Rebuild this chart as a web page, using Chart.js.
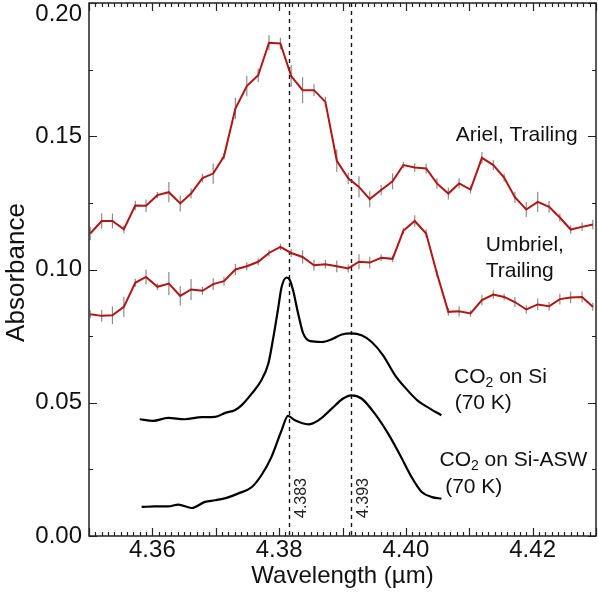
<!DOCTYPE html>
<html>
<head>
<meta charset="utf-8">
<script src="https://cdn.jsdelivr.net/npm/chart.js@4.4.1/dist/chart.umd.min.js"></script>
<style>
html,body{margin:0;padding:0;background:#fff;}
#wrap{width:598px;height:595px;position:relative;}
</style>
</head>
<body>
<div id="wrap"><canvas id="c"></canvas></div>
<script>
// Wavelength grid (µm) of the Ariel / Umbriel spectra
const wlObs = [4.3502,4.3520,4.3537,4.3555,4.3573,4.3590,4.3608,4.3626,4.3644,4.3661,
  4.3679,4.3696,4.3713,4.3731,4.3749,4.3767,4.3784,4.3802,4.3819,4.3837,
  4.3855,4.3873,4.3891,4.3909,4.3926,4.3943,4.3961,4.3979,4.3996,4.4014,
  4.4032,4.4049,4.4067,4.4084,4.4102,4.4120,4.4138,4.4155,4.4172,4.4190,
  4.4208,4.4226,4.4243,4.4260,4.4278,4.4295];
const ariel = [0.1135,0.1182,0.1182,0.1151,0.1240,0.1239,0.1279,0.1290,0.1248,0.1285,
  0.1343,0.1360,0.1425,0.1604,0.1688,0.1729,0.1851,0.1848,0.1726,0.1673,
  0.1673,0.1629,0.1408,0.1342,0.1310,0.1264,0.1298,0.1331,0.1392,0.1383,
  0.1379,0.1323,0.1285,0.1323,0.1300,0.1419,0.1392,0.1345,0.1271,0.1225,
  0.1254,0.1235,0.1195,0.1150,0.1160,0.1169];
const arielErr = [0.0025,0.0029,0.0028,0.0015,0.0018,0.0024,0.0012,0.0038,0.0030,0.0019,
  0.0016,0.0038,0.0012,0.0040,0.0038,0.0025,0.0028,0.0022,0.0040,0.0049,
  0.0022,0.0019,0.0042,0.0022,0.0040,0.0030,0.0019,0.0030,0.0012,0.0016,
  0.0019,0.0019,0.0022,0.0019,0.0015,0.0022,0.0019,0.0015,0.0021,0.0028,
  0.0038,0.0022,0.0015,0.0015,0.0016,0.0018];
const umbriel = [0.0832,0.0826,0.0828,0.0860,0.0950,0.0972,0.0935,0.0947,0.0901,0.0925,
  0.0920,0.0945,0.0956,0.1000,0.1012,0.1029,0.1062,0.1085,0.1062,0.1047,
  0.1016,0.1020,0.1012,0.1004,0.1029,0.1026,0.1044,0.1040,0.1145,0.1182,
  0.1135,0.0985,0.0841,0.0843,0.0835,0.0885,0.0906,0.0897,0.0878,0.0850,
  0.0869,0.0862,0.0889,0.0895,0.0897,0.0860];
const umbrielErr = [0.0015,0.0022,0.0033,0.0038,0.0015,0.0028,0.0012,0.0044,0.0036,0.0039,
  0.0015,0.0022,0.0016,0.0022,0.0015,0.0013,0.0012,0.0012,0.0015,0.0025,
  0.0021,0.0016,0.0022,0.0015,0.0028,0.0022,0.0012,0.0012,0.0012,0.0022,
  0.0016,0.0012,0.0015,0.0019,0.0012,0.0019,0.0016,0.0012,0.0019,0.0016,
  0.0022,0.0016,0.0020,0.0022,0.0020,0.0015];
// Laboratory spectra
const siWl = [4.3580,4.3601,4.3625,4.3651,4.3678,4.3699,4.3715,4.3730,4.3741,4.3757,
  4.3771,4.3783,4.3791,4.3798,4.3804,4.3812,4.3817,4.3822,4.3830,4.3838,
  4.3849,4.3867,4.3883,4.3899,4.3914,4.3930,4.3946,4.3964,4.3983,4.3998,
  4.4019,4.4038,4.4056];
const siAbs = [0.0438,0.0432,0.0443,0.0438,0.0446,0.0447,0.0462,0.0472,0.0491,0.0535,
  0.0581,0.0647,0.0747,0.0847,0.0935,0.0970,0.0960,0.0922,0.0835,0.0760,
  0.0731,0.0728,0.0738,0.0756,0.0760,0.0753,0.0728,0.0678,0.0603,0.0559,
  0.0507,0.0478,0.0453];
const aswWl = [4.3583,4.3604,4.3625,4.3641,4.3662,4.3683,4.3699,4.3717,4.3735,4.3757,
  4.3772,4.3788,4.3804,4.3814,4.3825,4.3846,4.3862,4.3883,4.3901,4.3914,
  4.3930,4.3951,4.3972,4.3991,4.4009,4.4025,4.4041,4.4056];
const aswAbs = [0.0109,0.0111,0.0111,0.0118,0.0105,0.0128,0.0134,0.0143,0.0159,0.0184,
  0.0228,0.0297,0.0397,0.0451,0.0434,0.0419,0.0434,0.0478,0.0516,0.0528,
  0.0516,0.0459,0.0384,0.0303,0.0221,0.0165,0.0146,0.0140];
const markLines = [4.3815, 4.3913];
const markLabels = ["4.383", "4.393"];
const xTickLabels = ["4.36","4.38","4.40","4.42"];
const xTickValues = [4.36,4.38,4.40,4.42];
const yTickLabels = ["0.00","0.05","0.10","0.15","0.20"];
const yTickValues = [0,0.05,0.10,0.15,0.20];

const FONT = '"Liberation Sans", Arial, Helvetica, sans-serif';
const RED = '#b31414';

function pts(xs, ys){ return xs.map((x,i)=>({x:x, y:ys[i]})); }

const decor = {
  id:'decor',
  beforeDatasetsDraw(chart){
    const ctx = chart.ctx, xs = chart.scales.x, ys = chart.scales.y, a = chart.chartArea;
    ctx.save();
    ctx.beginPath(); ctx.rect(a.left, a.top, a.right-a.left, a.bottom-a.top); ctx.clip();
    // dashed markers
    ctx.strokeStyle = '#111'; ctx.lineWidth = 1.4; ctx.setLineDash([4,4]);
    markLines.forEach(v=>{
      const px = Math.round(xs.getPixelForValue(v))+0.5;
      ctx.beginPath(); ctx.moveTo(px, a.top); ctx.lineTo(px, a.bottom); ctx.stroke();
    });
    ctx.setLineDash([]);
    // error bars
    ctx.strokeStyle = '#8c8c8c'; ctx.lineWidth = 1.2;
    [[ariel, arielErr],[umbriel, umbrielErr]].forEach(([vals, errs])=>{
      vals.forEach((v,i)=>{
        const px = xs.getPixelForValue(wlObs[i]);
        ctx.beginPath();
        ctx.moveTo(px, ys.getPixelForValue(v-errs[i]));
        ctx.lineTo(px, ys.getPixelForValue(v+errs[i]));
        ctx.stroke();
      });
    });
    ctx.restore();
  },
  afterDraw(chart){
    const ctx = chart.ctx, xs = chart.scales.x, ys = chart.scales.y, a = chart.chartArea;
    ctx.save();
    // frame
    ctx.strokeStyle = '#222'; ctx.lineWidth = 1.5;
    ctx.strokeRect(a.left, a.top, a.right-a.left, a.bottom-a.top);
    // x ticks
    ctx.lineWidth = 1.2;
    for(let k=0;k<=80;k++){
      const v = 4.35 + k*0.001;
      const px = Math.round(xs.getPixelForValue(v))+0.5;
      const len = (k%10===0) ? 8 : 4;
      ctx.beginPath();
      ctx.moveTo(px, a.bottom); ctx.lineTo(px, a.bottom-len);
      ctx.moveTo(px, a.top); ctx.lineTo(px, a.top+len);
      ctx.stroke();
    }
    // y ticks
    for(let k=0;k<=8;k++){
      const v = k*0.025;
      const py = Math.round(ys.getPixelForValue(v))+0.5;
      const len = (k%2===0) ? 8 : 4;
      ctx.beginPath();
      ctx.moveTo(a.left, py); ctx.lineTo(a.left+len, py);
      ctx.moveTo(a.right, py); ctx.lineTo(a.right-len, py);
      ctx.stroke();
    }
    // tick labels
    ctx.fillStyle = '#111';
    ctx.font = '24px ' + FONT;
    ctx.textAlign = 'center'; ctx.textBaseline = 'middle';
    xTickValues.forEach((v,i)=>{
      ctx.fillText(xTickLabels[i], xs.getPixelForValue(v), a.bottom + 14);
    });
    ctx.textAlign = 'right';
    yTickValues.forEach((v,i)=>{
      let py = ys.getPixelForValue(v);
      py = Math.max(py, a.top + 11);
      ctx.fillText(yTickLabels[i], a.left - 7, py);
    });
    // axis titles
    ctx.textAlign = 'center';
    ctx.font = '24px ' + FONT;
    ctx.fillText('Wavelength (µm)', (a.left+a.right)/2, a.bottom + 40);
    ctx.save();
    ctx.translate(17, (a.top+a.bottom)/2 + 3);
    ctx.rotate(-Math.PI/2);
    ctx.font = '26px ' + FONT;
    ctx.fillText('Absorbance', 0, 0);
    ctx.restore();
    // marker labels
    ctx.font = '16px ' + FONT;
    ctx.fillStyle = '#222';
    markLines.forEach((v,i)=>{
      ctx.save();
      ctx.translate(xs.getPixelForValue(v) + 13, a.bottom - 38);
      ctx.rotate(-Math.PI/2);
      ctx.textAlign = 'center'; ctx.textBaseline = 'middle';
      ctx.fillText(markLabels[i], 0, 0);
      ctx.restore();
    });
    // annotations
    ctx.fillStyle = '#111';
    ctx.font = '21px ' + FONT;
    ctx.textBaseline = 'middle';
    ctx.textAlign = 'right';
    ctx.fillText('Ariel, Trailing', xs.getPixelForValue(4.4271), ys.getPixelForValue(0.1504));
    ctx.textAlign = 'left';
    ctx.fillText('Umbriel,', xs.getPixelForValue(4.4126), ys.getPixelForValue(0.1091));
    ctx.fillText('Trailing', xs.getPixelForValue(4.4126), ys.getPixelForValue(0.0995));
    function co2(x, y, rest){
      ctx.font = '21px ' + FONT;
      ctx.fillText('CO', x, y);
      let w = ctx.measureText('CO').width;
      ctx.font = '14px ' + FONT;
      ctx.fillText('2', x + w, y + 6);
      w += ctx.measureText('2').width;
      ctx.font = '21px ' + FONT;
      ctx.fillText(rest, x + w, y);
    }
    co2(xs.getPixelForValue(4.4076), ys.getPixelForValue(0.0597), ' on Si');
    ctx.fillText('(70 K)', xs.getPixelForValue(4.4077), ys.getPixelForValue(0.0497));
    co2(xs.getPixelForValue(4.4053), ys.getPixelForValue(0.0284), ' on Si-ASW');
    ctx.fillText('(70 K)', xs.getPixelForValue(4.4062), ys.getPixelForValue(0.0184));
    ctx.restore();
  }
};

new Chart(document.getElementById('c'), {
  type: 'line',
  data: {
    datasets: [
      {label:'Ariel, Trailing', data: pts(wlObs, ariel), borderColor: RED, borderWidth: 2, pointRadius: 0, tension: 0},
      {label:'Umbriel, Trailing', data: pts(wlObs, umbriel), borderColor: RED, borderWidth: 2, pointRadius: 0, tension: 0},
      {label:'CO2 on Si (70 K)', data: pts(siWl, siAbs), borderColor: '#000', borderWidth: 2.2, pointRadius: 0, cubicInterpolationMode: 'monotone'},
      {label:'CO2 on Si-ASW (70 K)', data: pts(aswWl, aswAbs), borderColor: '#000', borderWidth: 2.2, pointRadius: 0, cubicInterpolationMode: 'monotone'}
    ]
  },
  options: {
    responsive: true,
    maintainAspectRatio: false,
    animation: false,
    devicePixelRatio: 1,
    layout: {padding: {left: 0, top: 3, right: 2, bottom: 0}},
    plugins: {legend: {display: false}, tooltip: {enabled: false}},
    scales: {
      x: {type: 'linear', min: 4.35, max: 4.43,
          grid: {display: false, drawTicks: false}, border: {display: false},
          ticks: {display: false}, afterFit(s){ s.height = 59; }},
      y: {type: 'linear', min: 0, max: 0.2,
          grid: {display: false, drawTicks: false}, border: {display: false},
          ticks: {display: false}, afterFit(s){ s.width = 89; }}
    }
  },
  plugins: [decor]
});
</script>
</body>
</html>
